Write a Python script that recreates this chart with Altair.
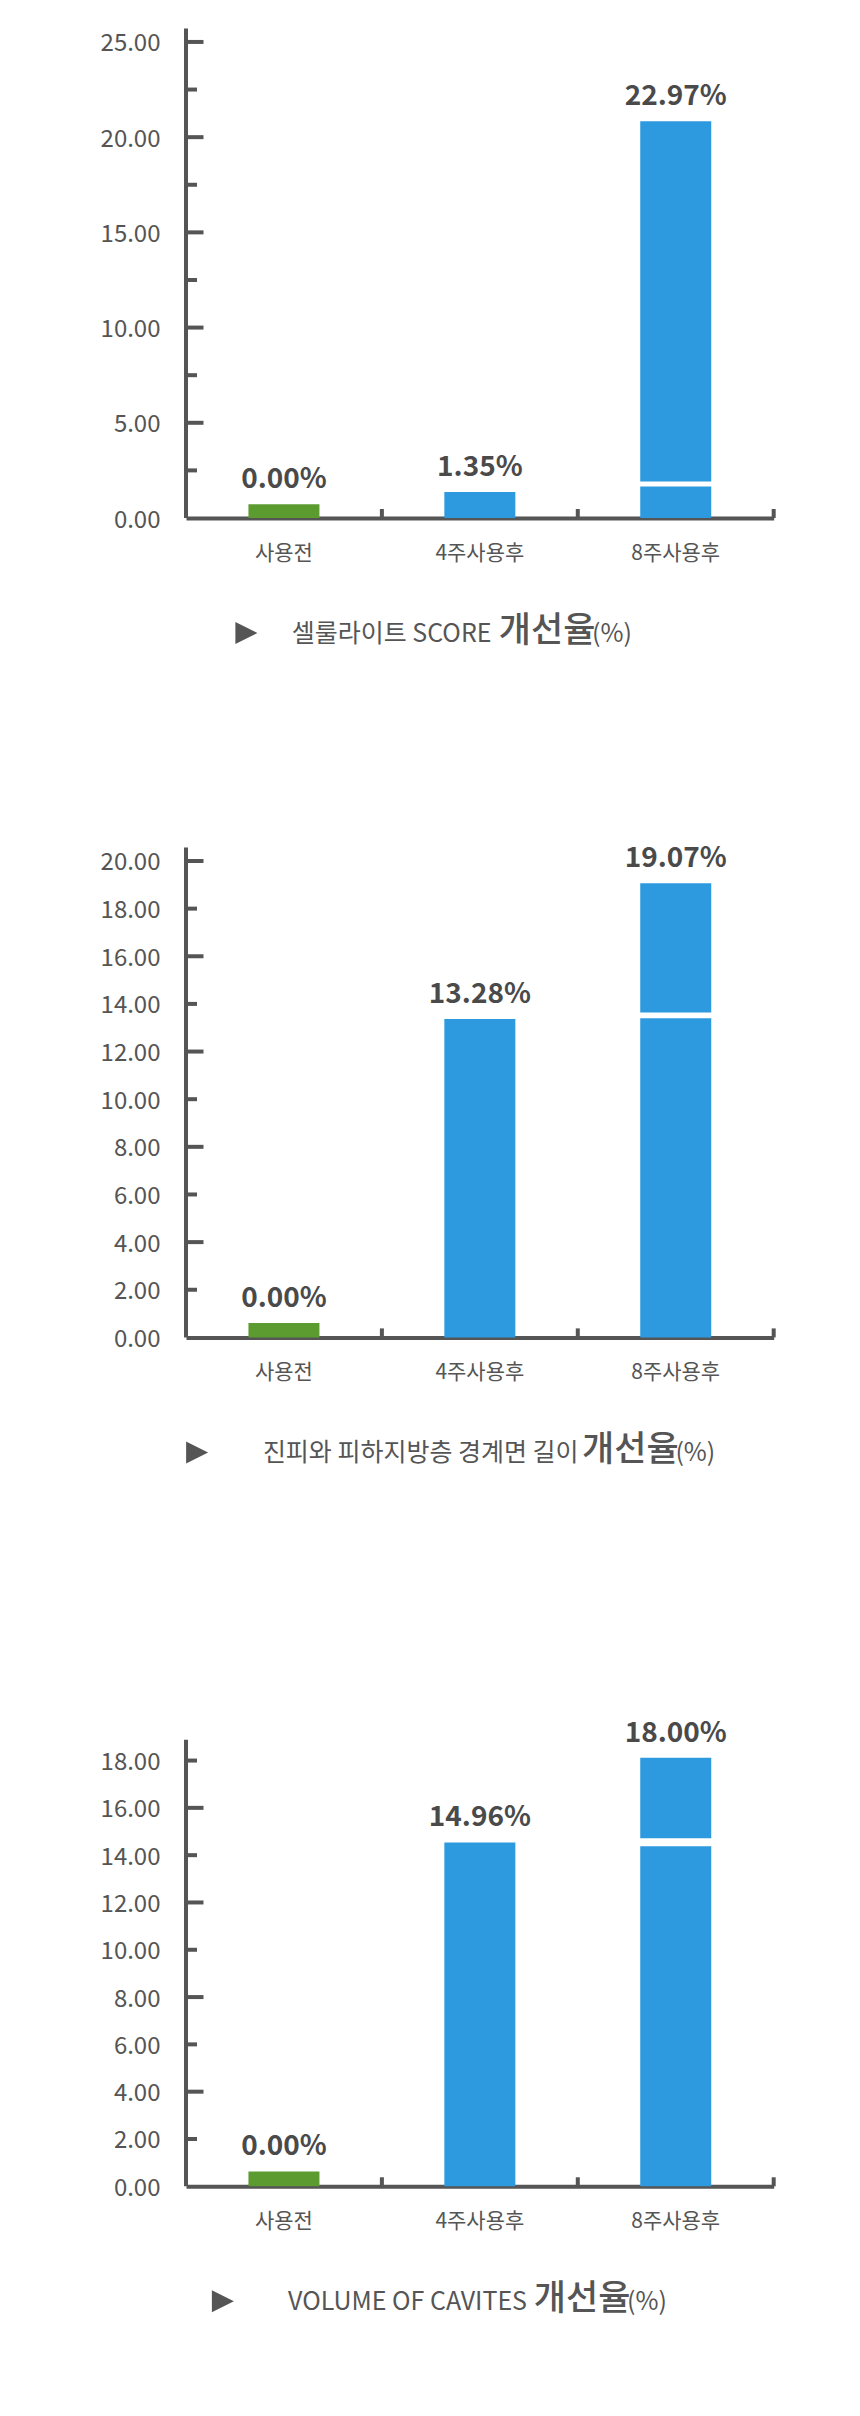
import altair as alt
import pandas as pd

FONT = "Noto Sans CJK KR"
BLUE = "#2D9AE0"
GREEN = "#5B9B30"
TEXT = "#555555"
VALTEXT = "#4A4A4A"
AXIS = "#555555"

categories = ["사용전", "4주사용후", "8주사용후"]
kinds = ["before", "after", "after"]

# ---- chart 1 : 셀룰라이트 SCORE
c1_text = ["0.00%", "1.35%", "22.97%"]
c1_tops = [0.72, 1.36, 20.83]          # bar heights as drawn
c1_split = [1.66, 1.92]                # gap in the 8-week bar
c1_axis_top = 25.7
c1_scale_top = 25.7
c1_label_vals = [0, 5, 10, 15, 20, 25]
c1_long = [5, 10, 15, 20, 25]
c1_short = [2.5, 7.5, 12.5, 17.5, 22.5]
c1_title = ["셀룰라이트 SCORE", "개선율", "(%)"]

# ---- chart 2 : 진피와 피하지방층 경계면 길이
c2_text = ["0.00%", "13.28%", "19.07%"]
c2_tops = [0.6, 13.37, 19.07]
c2_split = [13.4, 13.64]
c2_axis_top = 20.57
c2_scale_top = 20.57
c2_label_vals = [0, 2, 4, 6, 8, 10, 12, 14, 16, 18, 20]
c2_long = [4, 8, 12, 16, 20]
c2_short = [2, 6, 10, 14, 18]
c2_title = ["진피와 피하지방층 경계면 길이", "개선율", "(%)"]

# ---- chart 3 : VOLUME OF CAVITES
c3_text = ["0.00%", "14.96%", "18.00%"]
c3_tops = [0.63, 14.54, 18.12]
c3_split = [14.38, 14.71]
c3_axis_top = 18.88
c3_scale_top = 21.99
c3_label_vals = [0, 2, 4, 6, 8, 10, 12, 14, 16, 18]
c3_long = [4, 8, 12, 16]
c3_short = [2, 6, 10, 14, 18]
c3_title = ["VOLUME OF CAVITES", "개선율", "(%)"]

W = 587.7
ONE = pd.DataFrame({"d": [0]})


def panel(texts, tops, split, axis_top, scale_top, label_vals, longs, shorts,
          title, H, tri_x, prefix_right, main_center, anchor=False):
    rows = []
    for i, c in enumerate(categories):
        if i == 2:
            rows.append({"cat": c, "kind": kinds[i], "y0": 0, "y1": split[0]})
            rows.append({"cat": c, "kind": kinds[i], "y0": split[1], "y1": tops[i]})
        else:
            rows.append({"cat": c, "kind": kinds[i], "y0": 0, "y1": tops[i]})
    seg = pd.DataFrame(rows)
    lab = pd.DataFrame({"cat": categories, "top": tops, "label": texts})

    yscale = alt.Scale(domain=[0, scale_top], nice=False, zero=True)
    yaxis = alt.Axis(values=label_vals, format=".2f", domain=False, ticks=False,
                     tickSize=0, grid=False, title=None, labelFont=FONT,
                     labelFontSize=24, labelColor=TEXT, labelPadding=26,
                     labelOffset=2)
    xscale = alt.Scale(domain=categories, paddingInner=0, paddingOuter=0)
    xaxis = alt.Axis(title=None, ticks=False, tickSize=0, grid=False,
                     domain=True, domainColor=AXIS, domainWidth=4,
                     labelFont=FONT, labelFontSize=21, labelColor=TEXT,
                     labelPadding=24, labelAngle=0)

    def X(**kw):
        return alt.X("cat:N", sort=categories, scale=xscale, axis=xaxis, **kw)

    def Y(field):
        return alt.Y(field, type="quantitative", scale=yscale, axis=yaxis)

    bars = alt.Chart(seg).mark_bar(width=71).encode(
        x=X(), y=Y("y1"), y2="y0:Q",
        color=alt.Color("kind:N", scale=alt.Scale(domain=["before", "after"],
                                                  range=[GREEN, BLUE]),
                        legend=None))
    vals = alt.Chart(lab).mark_text(font=FONT, fontSize=28, fontWeight="bold",
                                    color=VALTEXT, baseline="alphabetic",
                                    dy=-16).encode(
        x=X(), y=Y("top"), text="label:N")
    yline = alt.Chart(pd.DataFrame({"a": [0], "b": [axis_top]})).mark_rule(
        color=AXIS, strokeWidth=4).encode(x=alt.value(0), y=Y("a"), y2="b:Q")
    tl = alt.Chart(pd.DataFrame({"v": longs})).mark_rule(
        color=AXIS, strokeWidth=4).encode(x=alt.value(0), x2=alt.value(17.5), y=Y("v"))
    ts = alt.Chart(pd.DataFrame({"v": shorts})).mark_rule(
        color=AXIS, strokeWidth=4).encode(x=alt.value(0), x2=alt.value(11), y=Y("v"))
    xt = alt.Chart(pd.DataFrame({"cat": categories})).mark_rule(
        color=AXIS, strokeWidth=4).encode(
        x=X(bandPosition=1), y=alt.value(H), y2=alt.value(H - 9))

    ty = H + 115
    tri = alt.Chart(ONE).mark_point(shape="M-1,-1L1,0L-1,1Z", size=484,
                                    filled=True, opacity=1, color=TEXT,
                                    strokeWidth=0).encode(
        x=alt.value(tri_x), y=alt.value(ty))
    pre = alt.Chart(pd.DataFrame({"t": [title[0]]})).mark_text(
        font=FONT, fontSize=25, color=TEXT, align="right",
        baseline="middle").encode(x=alt.value(prefix_right), y=alt.value(ty + 1),
                                  text="t:N")
    main = alt.Chart(pd.DataFrame({"t": [title[1]]})).mark_text(
        font=FONT, fontSize=35, fontWeight=500, color=TEXT, align="center",
        baseline="middle").encode(x=alt.value(main_center), y=alt.value(ty - 2),
                                  text="t:N")
    pct = alt.Chart(pd.DataFrame({"t": [title[2]]})).mark_text(
        font=FONT, fontSize=25, color=TEXT, align="left",
        baseline="middle").encode(x=alt.value(main_center + 45), y=alt.value(ty + 1),
                                  text="t:N")
    layers = [bars, vals, yline, tl, ts, xt, tri, pre, main, pct]
    if anchor:
        layers.append(alt.Chart(ONE).mark_rule(color="white", strokeWidth=1).encode(
            x=alt.value(-185.1), y=alt.value(200), y2=alt.value(201)))
    return alt.layer(*layers).properties(width=W, height=H)


p1 = panel(c1_text, c1_tops, c1_split, c1_axis_top, c1_scale_top, c1_label_vals,
           c1_long, c1_short, c1_title, 489.4, 60.4, 305.5, 361.1, anchor=True)
p2 = panel(c2_text, c2_tops, c2_split, c2_axis_top, c2_scale_top, c2_label_vals,
           c2_long, c2_short, c2_title, 490.0, 11.1, 392.5, 444.4)
p3 = panel(c3_text, c3_tops, c3_split, c3_axis_top, c3_scale_top, c3_label_vals,
           c3_long, c3_short, c3_title, 520.1, 36.9, 341.0, 396.1)

chart = alt.vconcat(p1, p2, p3, spacing=328.8, bounds="flush").properties(
    padding={"left": 0, "top": 26.6, "right": 0, "bottom": 10}
).configure(
    font=FONT,
    view=alt.ViewConfig(stroke="transparent", strokeWidth=0),
)

chart.save("out.html", embed_options={"renderer": "svg", "actions": False})
